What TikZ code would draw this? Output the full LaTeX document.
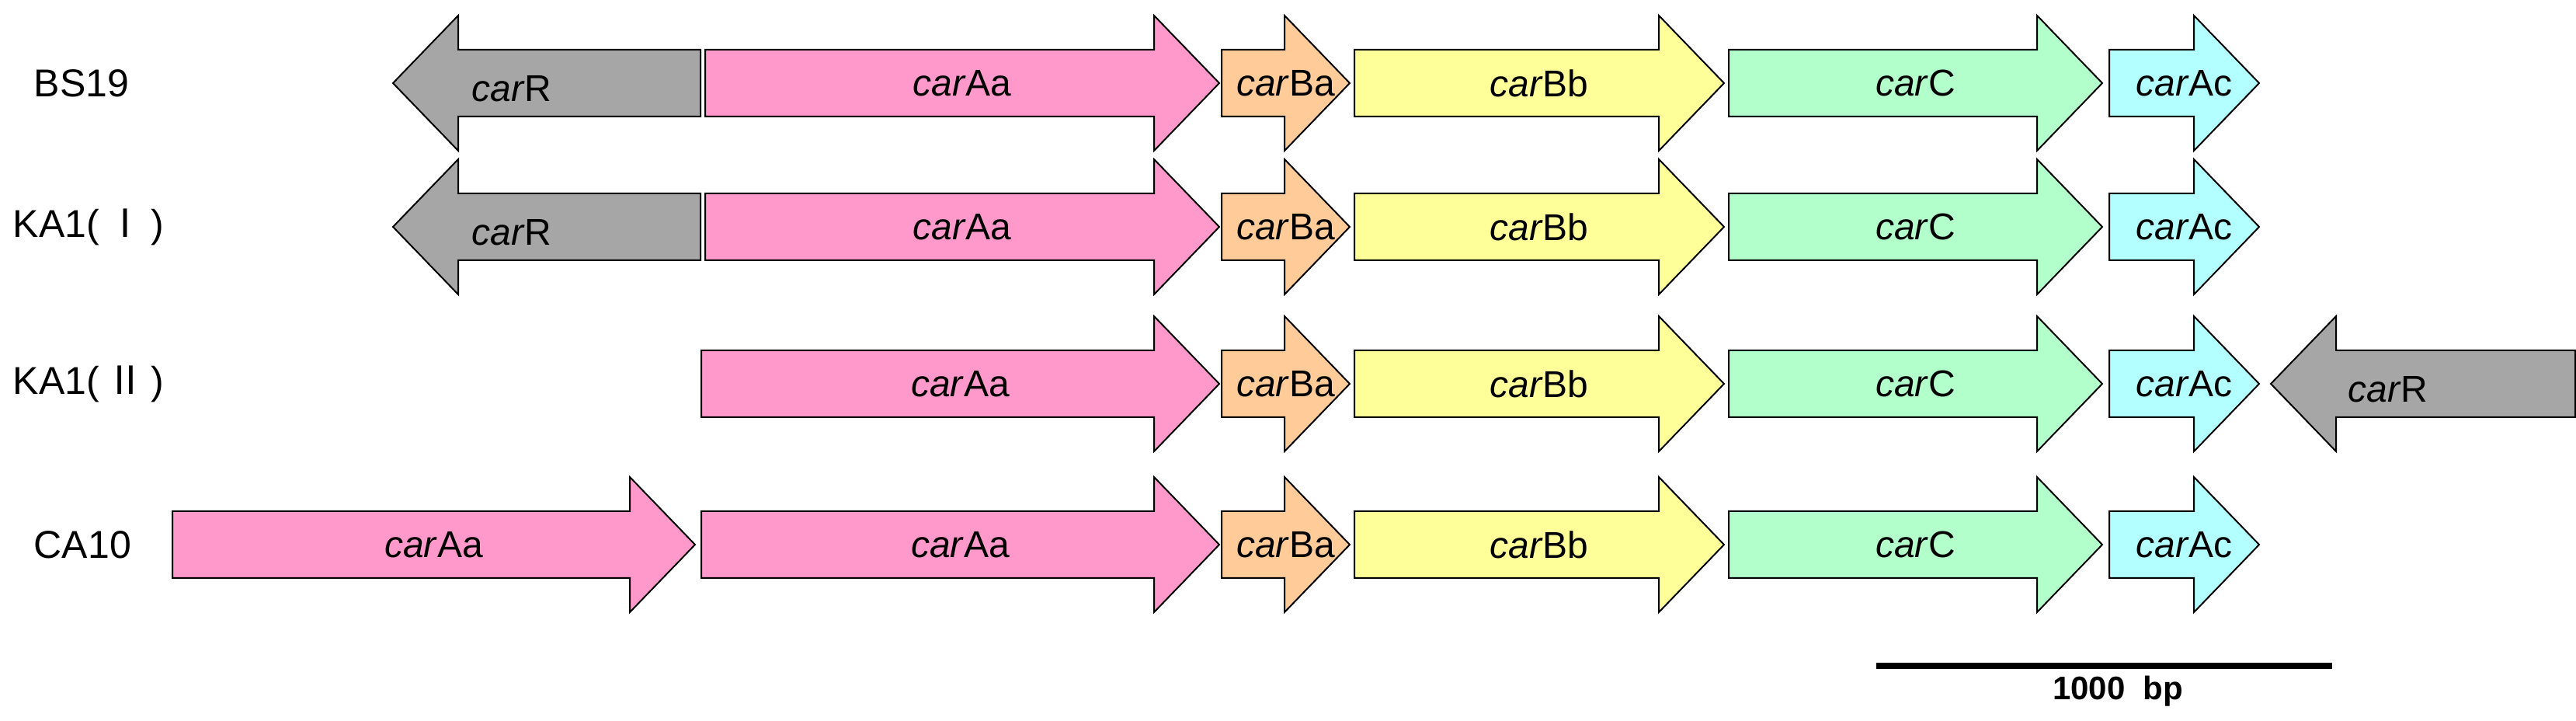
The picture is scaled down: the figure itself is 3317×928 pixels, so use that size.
\documentclass[tikz,border=0pt]{standalone}
\usepackage{fontspec}
\setmainfont{Liberation Sans}
\newfontfamily\cjk{Noto Sans CJK SC}
\definecolor{cR}{HTML}{A6A6A6}
\definecolor{cAa}{HTML}{FF99CC}
\definecolor{cBa}{HTML}{FFCC99}
\definecolor{cBb}{HTML}{FFFF99}
\definecolor{cC}{HTML}{B3FFCC}
\definecolor{cAc}{HTML}{B3FFFF}
\tikzset{gene/.style={draw=black,line width=0.5pt},
  glab/.style={font=\fontsize{12}{14}\selectfont,inner sep=0pt},
  slab/.style={font=\fontsize{12.5}{15}\selectfont,anchor=west,inner sep=0pt}}
% right-pointing gene: name, x1, x2, y, colour, label
\newcommand\rgene[6]{%
  \fill[#5] (#2,#4-43) -- (#3-84,#4-43) -- (#3-84,#4-87) -- (#3,#4) -- (#3-84,#4+87) -- (#3-84,#4+43) -- (#2,#4+43) -- cycle;
  \draw[gene] (#2,#4-43) -- (#3-84,#4-43) -- (#3-84,#4-87) -- (#3,#4) -- (#3-84,#4+87) -- (#3-84,#4+43) -- (#2,#4+43) -- cycle;
  \node[glab] (#1) at ({(#2+#3)/2},#4) {\textit{car}#6};}
% left-pointing gene
\newcommand\lgene[6]{%
  \draw[gene,fill=#5] (#3,#4-43) -- (#2+84,#4-43) -- (#2+84,#4-87) -- (#2,#4) -- (#2+84,#4+87) -- (#2+84,#4+43) -- (#3,#4+43) -- cycle;
  \node[glab] (#1) at ({(#2+#3)/2-45},#4+7) {\textit{car}#6};}
\begin{document}
\begin{tikzpicture}[x=0.25pt,y=-0.25pt]
\useasboundingbox (0,0) rectangle (3317,928);
% row 1
\node[slab] (s1) at (43,107) {BS19};
\lgene{r1R}{506}{902}{107}{cR}{R}
\rgene{r1Aa}{908}{1570}{107}{cAa}{Aa}
\rgene{r1Ba}{1573}{1738}{107}{cBa}{Ba}
\rgene{r1Bb}{1744}{2220}{107}{cBb}{Bb}
\rgene{r1C}{2226}{2707}{107}{cC}{C}
\rgene{r1Ac}{2716}{2909}{107}{cAc}{Ac}
% row 2
\node[slab] (s2) at (16,292) {KA1(\,{\cjk Ⅰ}\,)};
\lgene{r2R}{506}{902}{292}{cR}{R}
\rgene{r2Aa}{908}{1570}{292}{cAa}{Aa}
\rgene{r2Ba}{1573}{1738}{292}{cBa}{Ba}
\rgene{r2Bb}{1744}{2220}{292}{cBb}{Bb}
\rgene{r2C}{2226}{2707}{292}{cC}{C}
\rgene{r2Ac}{2716}{2909}{292}{cAc}{Ac}
% row 3
\node[slab] (s3) at (16,494) {KA1(\,{\cjk Ⅱ}\,)};
\rgene{r3Aa}{903}{1570}{494}{cAa}{Aa}
\rgene{r3Ba}{1573}{1738}{494}{cBa}{Ba}
\rgene{r3Bb}{1744}{2220}{494}{cBb}{Bb}
\rgene{r3C}{2226}{2707}{494}{cC}{C}
\rgene{r3Ac}{2716}{2909}{494}{cAc}{Ac}
\lgene{r3R}{2924}{3316}{494}{cR}{R}
% row 4
\node[slab] (s4) at (43,701) {CA10};
\rgene{r4Ab}{222}{895}{701}{cAa}{Aa}
\rgene{r4Aa}{903}{1570}{701}{cAa}{Aa}
\rgene{r4Ba}{1573}{1738}{701}{cBa}{Ba}
\rgene{r4Bb}{1744}{2220}{701}{cBb}{Bb}
\rgene{r4C}{2226}{2707}{701}{cC}{C}
\rgene{r4Ac}{2716}{2909}{701}{cAc}{Ac}
% scale bar
\coordinate (b1) at (2416,857);
\coordinate (b2) at (3003,857);
\draw[line width=2pt] (b1) -- (b2);
\node[font=\bfseries\fontsize{10.5}{12}\selectfont] (sb) at (2727,890) {1000\ \ bp};
\end{tikzpicture}
\end{document}
